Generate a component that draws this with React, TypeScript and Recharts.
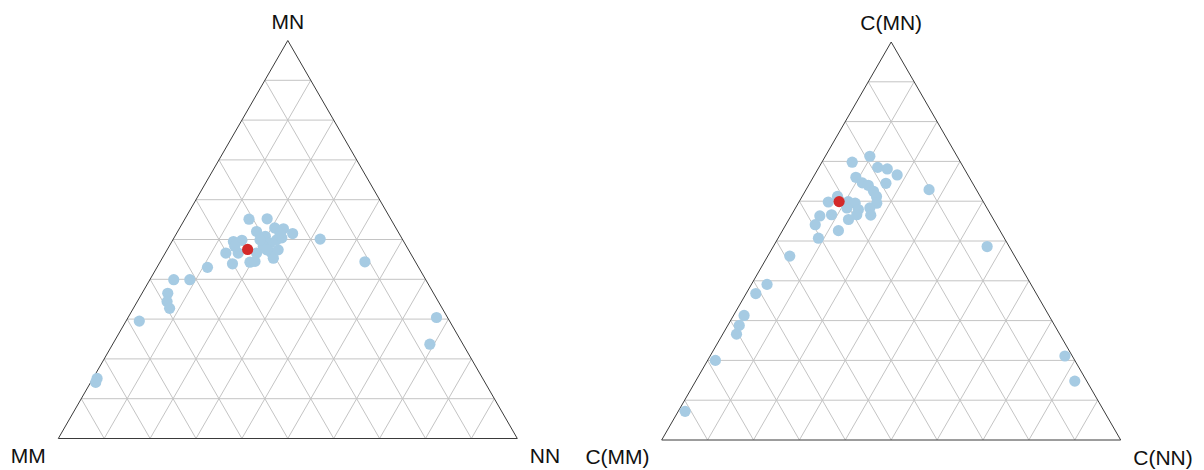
import React from 'react';
import { ScatterChart, Scatter, XAxis, YAxis, ReferenceLine, ReferenceDot } from 'recharts';

// Ternary compositions in percent: [MM, MN, NN]
const leftCorners = ['MM', 'MN', 'NN'];
const rightCorners = ['C(MM)', 'C(MN)', 'C(NN)'];

const leftPoints: number[][] = [
  [30.9, 55.1, 14.0], [26.9, 55.2, 17.9], [26.4, 52.9, 20.7], [24.6, 52.7, 22.7], [23.2, 51.5, 25.3],
  [30.8, 52.0, 17.2], [17.9, 50.1, 32.0], [37.1, 49.5, 13.4], [35.1, 49.8, 15.1], [40.2, 46.6, 13.2],
  [40.1, 43.9, 16.0], [36.1, 44.3, 19.6], [29.5, 50.8, 19.7], [29.3, 49.1, 21.6], [27.5, 49.9, 22.6],
  [26.1, 50.4, 23.5], [31.2, 48.3, 20.5], [30.2, 46.6, 23.2], [33.5, 46.6, 19.9], [30.5, 45.3, 24.2],
  [34.9, 44.5, 20.6], [37.5, 46.6, 15.9], [37.4, 48.3, 14.3], [31.1, 49.9, 19.0], [30.9, 47.4, 21.7],
  [28.4, 47.4, 24.2], [25.9, 51.6, 22.5], [11.0, 44.4, 44.6], [46.0, 43.0, 11.0], [54.9, 39.9, 5.2],
  [51.4, 39.9, 8.7], [57.9, 36.5, 5.6], [59.1, 34.4, 6.5], [59.4, 32.7, 7.9], [67.6, 29.5, 2.9],
  [2.4, 30.4, 67.2], [7.2, 23.7, 69.1], [84.0, 15.1, 0.9], [84.8, 14.1, 1.1],
];
const leftMean: number[][] = [[35.0, 47.5, 17.5]];

const rightPoints: number[][] = [
  [19.0, 71.3, 9.7], [23.6, 69.8, 6.6], [18.7, 68.5, 12.8], [16.8, 68.1, 15.1], [15.4, 66.6, 18.0],
  [24.7, 66.0, 9.3], [18.9, 64.5, 16.6], [24.0, 64.6, 11.4], [23.0, 64.0, 13.0], [22.6, 62.5, 14.9],
  [22.6, 61.2, 16.2], [23.4, 59.5, 17.1], [10.3, 62.9, 26.8], [31.1, 61.2, 7.7], [33.8, 59.8, 6.4],
  [29.4, 59.9, 10.7], [28.1, 59.5, 12.4], [28.2, 57.9, 13.9], [25.5, 58.3, 16.2], [26.2, 56.5, 17.3],
  [29.2, 56.6, 14.2], [31.6, 55.4, 13.0], [34.7, 56.6, 8.7], [37.4, 56.3, 6.3], [39.5, 54.1, 6.4],
  [35.2, 52.6, 12.2], [40.5, 50.7, 8.8], [49.0, 46.2, 4.8], [4.8, 48.6, 46.6], [30.5, 58.3, 11.2],
  [57.5, 39.1, 3.4], [61.1, 36.8, 2.1], [66.4, 31.3, 2.3], [68.7, 28.8, 2.5], [70.4, 26.6, 3.0],
  [78.3, 20.0, 1.7], [91.3, 7.2, 1.5], [1.6, 21.1, 77.3], [2.6, 14.8, 82.6],
];
const rightMean: number[][] = [[31.4, 59.9, 8.7]];

const gridLevels = [0.1, 0.2, 0.3, 0.4, 0.5, 0.6, 0.7, 0.8, 0.9];

const TRI_H = Math.sqrt(3) / 2;
const toXY = (p: number[]) => {
  const s = p[0] + p[1] + p[2];
  const b = p[1] / s;
  const c = p[2] / s;
  return { x: c + b / 2, y: b * TRI_H };
};

const BLUE = '#a6cbe3';
const RED = '#d42a2a';
const GRID = '#c4c4c4';
const EDGE = '#3a3a3a';
const FONT = '"Liberation Sans", Arial, sans-serif';

const Dot = (color: string) => (props: any) => (
  <circle cx={props.cx} cy={props.cy} r={5.6} fill={color} />
);

const CornerLabel = (props: any) => {
  const vb = props.viewBox || {};
  const cx = (vb.x ?? 0) + (vb.width ?? 0) / 2;
  const cy = (vb.y ?? 0) + (vb.height ?? 0) / 2;
  return (
    <text x={cx + props.dx} y={cy + props.dy} textAnchor="middle" fontSize={21} fontFamily={FONT} fill="#111">
      {props.text}
    </text>
  );
};

type PanelProps = {
  width: number;
  points: number[][];
  mean: number[][];
  corners: string[];
  margin: { top: number; right: number; bottom: number; left: number };
  offsets: number[][]; // [dx, dy] for MM, MN, NN labels
};

const Panel = ({ width, points, mean, corners, margin, offsets }: PanelProps) => {
  const blue = points.map(toXY);
  const red = mean.map(toXY);
  const gridSegs: { x: number; y: number }[][] = [];
  gridLevels.forEach((k) => {
    gridSegs.push([{ x: k / 2, y: k * TRI_H }, { x: 1 - k / 2, y: k * TRI_H }]);
    gridSegs.push([{ x: k, y: 0 }, { x: k + (1 - k) / 2, y: (1 - k) * TRI_H }]);
    gridSegs.push([{ x: 1 - k, y: 0 }, { x: (1 - k) / 2, y: (1 - k) * TRI_H }]);
  });
  const A = { x: 0, y: 0 };
  const B = { x: 0.5, y: TRI_H };
  const C = { x: 1, y: 0 };
  const edges = [[A, B], [B, C], [A, C]];
  const cornerPts = [A, B, C];
  return (
    <ScatterChart width={width} height={470} margin={margin}>
      <XAxis dataKey="x" type="number" domain={[0, 1]} hide allowDataOverflow />
      <YAxis dataKey="y" type="number" domain={[0, TRI_H]} hide allowDataOverflow />
      {gridSegs.map((s, i) => (
        <ReferenceLine key={'g' + i} segment={s} stroke={GRID} strokeWidth={1} ifOverflow="visible" />
      ))}
      {edges.map((s, i) => (
        <ReferenceLine key={'e' + i} segment={s} stroke={EDGE} strokeWidth={1} ifOverflow="visible" />
      ))}
      {cornerPts.map((p, i) => (
        <ReferenceDot
          key={'c' + i}
          x={p.x}
          y={p.y}
          r={1}
          fill="none"
          stroke="none"
          ifOverflow="visible"
          label={<CornerLabel text={corners[i]} dx={offsets[i][0]} dy={offsets[i][1]} />}
        />
      ))}
      <Scatter data={blue} isAnimationActive={false} shape={Dot(BLUE)} />
      <Scatter data={red} isAnimationActive={false} shape={Dot(RED)} />
    </ScatterChart>
  );
};

export default function App() {
  return (
    <div style={{ position: 'absolute', left: 0, top: 0, width: 1204, height: 470, display: 'flex', background: '#fff' }}>
      <Panel
        width={580}
        points={leftPoints}
        mean={leftMean}
        corners={leftCorners}
        margin={{ top: 40.5, right: 62.7, bottom: 31.5, left: 58.3 }}
        offsets={[[-30, 24], [0, -12], [27.7, 24]]}
      />
      <Panel
        width={624}
        points={rightPoints}
        mean={rightMean}
        corners={rightCorners}
        margin={{ top: 42, right: 83.3, bottom: 30, left: 81.7 }}
        offsets={[[-44.2, 23.5], [0, -12.5], [42.3, 24.5]]}
      />
    </div>
  );
}
